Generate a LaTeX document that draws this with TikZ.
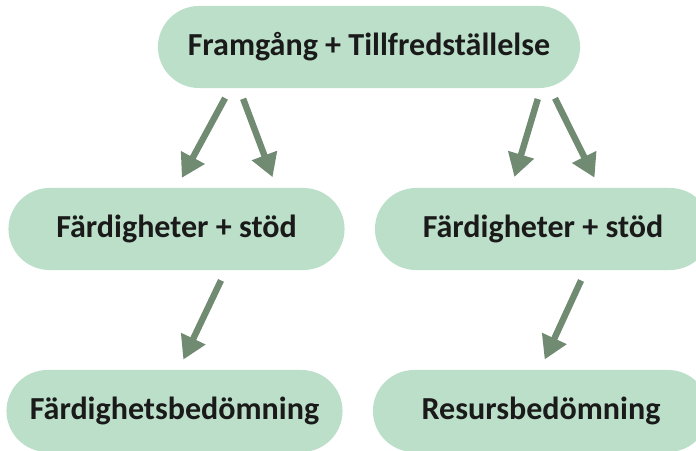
\documentclass[tikz,border=0pt]{standalone}
\usepackage{fontspec}
\setmainfont{Carlito}
\usetikzlibrary{arrows.meta,shapes.misc,calc}

\definecolor{pillgreen}{RGB}{188,223,201}
\definecolor{arrowgreen}{RGB}{112,139,114}
\definecolor{textdark}{RGB}{26,26,26}

\begin{document}
\begin{tikzpicture}[
  x=0.025cm, y=-0.025cm,
  font=\fontsize{22.8}{27}\selectfont\bfseries,
  pill/.style={rounded rectangle, fill=pillgreen, text=textdark, minimum width=8.4cm, minimum height=2.05cm, inner sep=0pt},
  arr/.style={-{Triangle[length=0.58cm, width=0.64cm]}, line width=0.16cm, arrowgreen, shorten <=0.28cm, shorten >=0.28cm}
]
\useasboundingbox (0,0) rectangle (696,451);

\node[pill, minimum width=10.55cm] (goal) at (369,47) {Framgång + Tillfredställelse};
\node[pill] (skillsL) at (176.5,229) {Färdigheter + stöd};
\node[pill] (skillsR) at (543,229) {Färdigheter + stöd};
\node[pill] (skillcheck) at (174.5,411) {Färdighetsbedömning};
\node[pill] (rescheck) at (541,411) {Resursbedömning};

% two arrows down to each branch
\draw[arr] ($(goal.south)+(-138.6,0)$) -- ($(skillsL.north)+(0,0)$);
\draw[arr] ($(goal.south)+(-129.8,0)$) -- ($(skillsL.north)+(100,0)$);
\draw[arr] ($(goal.south)+(172,0)$) -- ($(skillsR.north)+(-31.8,0)$);
\draw[arr] ($(goal.south)+(181,0)$) -- ($(skillsR.north)+(56.5,0)$);

% one arrow down to each assessment
\draw[arr] ($(skillsL.south)+(49.3,0)$) -- ($(skillcheck.north)+(4,0)$);
\draw[arr] ($(skillsR.south)+(42.7,0)$) -- ($(rescheck.north)+(-1,0)$);
\end{tikzpicture}
\end{document}
